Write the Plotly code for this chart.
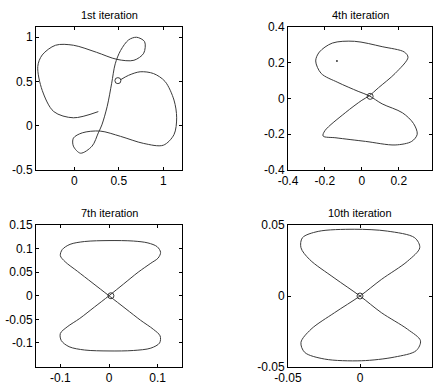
import plotly.graph_objects as go

# ---------------- data ----------------
titles = ["1st iteration", "4th iteration", "7th iteration", "10th iteration"]

it1_x = [0.27, -0.01, -0.23, -0.36, -0.41, -0.36, -0.21, -0.01, 0.25, 0.48, 0.67, 0.78, 0.79, 0.70,
         0.61, 0.52, 0.46, 0.42, 0.37, 0.31, 0.27, 0.20, 0.07, -0.01, -0.01, 0.09, 0.29, 0.52, 0.78,
         1.00, 1.12, 1.15, 1.12, 1.02, 0.89, 0.74, 0.61, 0.52]
it1_y = [0.16, 0.09, 0.16, 0.40, 0.67, 0.80, 0.91, 0.91, 0.83, 0.75, 0.74, 0.82, 0.95, 1.00,
         0.97, 0.85, 0.70, 0.48, 0.22, 0.01, -0.08, -0.23, -0.31, -0.23, -0.14, -0.08, -0.06, -0.12, -0.20,
         -0.22, -0.10, 0.09, 0.29, 0.50, 0.59, 0.61, 0.57, 0.52]
it1_pt = (0.49, 0.51)

it4_x = [0.04, 0.09, 0.18, 0.25, 0.23, 0.11, -0.04, -0.16, -0.23, -0.25, -0.22, -0.13, -0.02, 0.04,
         0.11, 0.22, 0.28, 0.30, 0.27, 0.18, 0.02, -0.14, -0.21, -0.20, -0.09, 0.00, 0.04]
it4_y = [0.015, 0.06, 0.14, 0.23, 0.26, 0.29, 0.32, 0.31, 0.26, 0.21, 0.14, 0.09, 0.04, 0.015,
         -0.03, -0.08, -0.14, -0.20, -0.24, -0.26, -0.24, -0.22, -0.21, -0.18, -0.08, -0.01, 0.015]
it4_pt = (0.045, 0.012)
it4_dot = (-0.135, 0.21)

it7_x = [0.0, 0.03, 0.06, 0.086, 0.101, 0.106, 0.099, 0.08, 0.05, 0.0, -0.05, -0.08, -0.096, -0.1, -0.09,
         -0.065, -0.035, 0.0, 0.035, 0.065, 0.091, 0.105, 0.104, 0.086, 0.05, 0.0, -0.05, -0.082, -0.098,
         -0.1, -0.086, -0.06, -0.03, 0.0]
it7_y = [0.0, 0.025, 0.05, 0.069, 0.08, 0.092, 0.104, 0.112, 0.116, 0.117, 0.115, 0.109, 0.098, 0.085, 0.072,
         0.052, 0.028, 0.0, -0.028, -0.052, -0.071, -0.085, -0.1, -0.111, -0.116, -0.117, -0.115, -0.108, -0.095,
         -0.08, -0.066, -0.048, -0.024, 0.0]
it7_pt = (0.004, 0.0)

it10_x = [0.0, 0.0148, 0.033, 0.0415, 0.038, 0.019, -0.004, -0.029, -0.040, -0.041, -0.035, -0.018, 0.0,
          0.0148, 0.033, 0.042, 0.039, 0.024, 0.001, -0.0246, -0.0384, -0.041, -0.034, -0.0176, 0.0]
it10_y = [0.0, 0.0116, 0.0245, 0.034, 0.041, 0.0457, 0.047, 0.0455, 0.041, 0.034, 0.0257, 0.0128, 0.0,
          -0.0117, -0.0234, -0.0315, -0.0385, -0.043, -0.0456, -0.0444, -0.0397, -0.0327, -0.0234, -0.0117, 0.0]
it10_pt = (0.0, 0.0)

x_ranges = [[-0.43, 1.21], [-0.4, 0.38], [-0.15, 0.15], [-0.05, 0.05]]
y_ranges = [[-0.5, 1.116], [-0.4, 0.4], [-0.151, 0.15], [-0.05, 0.05]]
x_tickvals = [[0, 0.5, 1], [-0.4, -0.2, 0, 0.2], [-0.1, 0, 0.1], [-0.05, 0, 0.05]]
x_ticktext = [["0", "0.5", "1"], ["-0.4", "-0.2", "0", "0.2"], ["-0.1", "0", "0.1"], ["-0.05", "0", "0.05"]]
y_tickvals = [[-0.5, 0, 0.5, 1], [-0.4, -0.2, 0, 0.2, 0.4], [-0.1, -0.05, 0, 0.05, 0.1, 0.15], [-0.05, 0, 0.05]]
y_ticktext = [["-0.5", "0", "0.5", "1"], ["-0.4", "-0.2", "0", "0.2", "0.4"],
              ["-0.1", "-0.05", "0", "0.05", "0.1", "0.15"], ["-0.05", "0", "0.05"]]

# ---------------- layout geometry ----------------
W, H = 444, 385
x_doms = [[36 / W, 182 / W], [288 / W, 432 / W], [36 / W, 182 / W], [288 / W, 432 / W]]
y_doms = [[1 - 170 / H, 1 - 27 / H], [1 - 170 / H, 1 - 27 / H],
          [1 - 367 / H, 1 - 225 / H], [1 - 367 / H, 1 - 225 / H]]

LINE = "#3a3a3a"
FONT = "Liberation Sans, Arial, Helvetica, sans-serif"

fig = go.Figure()
curves = [(it1_x, it1_y, it1_pt), (it4_x, it4_y, it4_pt), (it7_x, it7_y, it7_pt), (it10_x, it10_y, it10_pt)]
for i, (cx, cy, pt) in enumerate(curves):
    sfx = "" if i == 0 else str(i + 1)
    fig.add_trace(go.Scatter(x=cx, y=cy, mode="lines", line=dict(color=LINE, width=1, shape="spline", smoothing=0.9),
                             xaxis="x" + sfx, yaxis="y" + sfx, showlegend=False, hoverinfo="skip"))
    fig.add_trace(go.Scatter(x=[pt[0]], y=[pt[1]], mode="markers",
                             marker=dict(symbol="circle-open", size=6, color=LINE, line=dict(width=1, color=LINE)),
                             xaxis="x" + sfx, yaxis="y" + sfx, showlegend=False, hoverinfo="skip"))
fig.add_trace(go.Scatter(x=[it4_dot[0]], y=[it4_dot[1]], mode="markers", marker=dict(size=2, color=LINE),
                         xaxis="x2", yaxis="y2", showlegend=False, hoverinfo="skip"))

layout = dict(template="none", width=W, height=H, margin=dict(l=0, r=0, t=0, b=0, pad=0),
              paper_bgcolor="white", plot_bgcolor="white",
              font=dict(family=FONT, size=12, color="black"), annotations=[])
axis_common = dict(showline=True, linecolor="black", linewidth=1, mirror="ticks", ticks="inside",
                   ticklen=3, tickcolor="black", showgrid=False, zeroline=False, automargin=False,
                   tickfont=dict(family=FONT, size=12, color="black"))
for i in range(4):
    sfx = "" if i == 0 else str(i + 1)
    layout["xaxis" + sfx] = dict(axis_common, domain=x_doms[i], range=x_ranges[i], tickvals=x_tickvals[i],
                                 ticktext=x_ticktext[i], anchor="y" + sfx)
    layout["yaxis" + sfx] = dict(axis_common, domain=y_doms[i], range=y_ranges[i], tickvals=y_tickvals[i],
                                 ticktext=y_ticktext[i], anchor="x" + sfx)
    layout["annotations"].append(dict(text=titles[i], xref="paper", yref="paper",
                                      x=sum(x_doms[i]) / 2, y=y_doms[i][1], yshift=4,
                                      xanchor="center", yanchor="bottom", showarrow=False,
                                      font=dict(family=FONT, size=11, color="black")))
fig.update_layout(**layout)
fig.write_html("out.html", config={"displayModeBar": False},
               post_script="document.body.style.margin='0px';document.body.style.overflow='hidden';")
